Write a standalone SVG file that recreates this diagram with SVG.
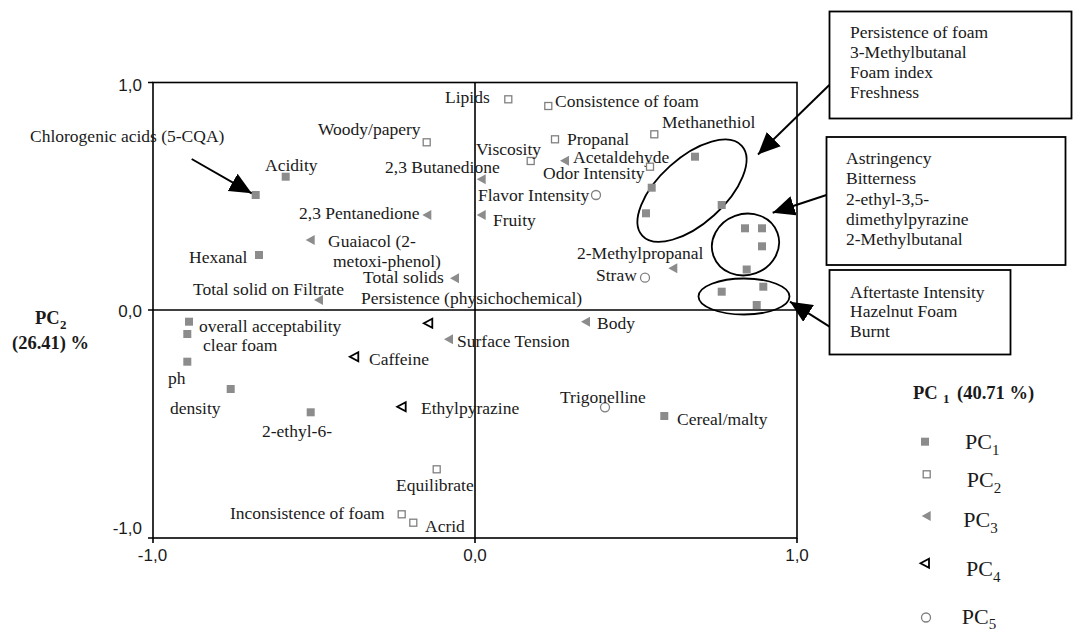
<svg xmlns="http://www.w3.org/2000/svg" width="1073" height="631" viewBox="0 0 1073 631">
<style>
.t{font-family:"Liberation Serif","Times New Roman",serif;font-size:17.5px;fill:#1a1a1a}
.ax{font-family:"Liberation Sans",Arial,sans-serif;font-size:17px;fill:#1a1a1a}
.b{font-family:"Liberation Serif","Times New Roman",serif;font-weight:bold;font-size:18.5px;fill:#1a1a1a}
.bs{font-family:"Liberation Serif","Times New Roman",serif;font-weight:bold;font-size:13px;fill:#1a1a1a}
.lg{font-family:"Liberation Serif","Times New Roman",serif;font-size:22px;fill:#1a1a1a}
.lgs{font-family:"Liberation Serif","Times New Roman",serif;font-size:15px;fill:#1a1a1a}
.frame{fill:none;stroke:#000;stroke-width:1.6}
.ln{stroke:#000;stroke-width:1.6;fill:none}
.box{fill:#fff;stroke:#000;stroke-width:1.8}
.ell{fill:none;stroke:#000;stroke-width:1.8}
.arr{stroke:#000;stroke-width:2;fill:none;marker-end:url(#ah)}
</style>
<defs>
<marker id="ah" markerUnits="userSpaceOnUse" markerWidth="24" markerHeight="20" refX="22" refY="10" orient="auto"><path d="M0,0 L22,10 L0,20 z" fill="#000"/></marker>
<rect id="p1" x="-4" y="-4" width="8" height="8" fill="#8c8c8c"/>
<rect id="p2" x="-3.5" y="-3.5" width="7" height="7" fill="#fff" stroke="#808080" stroke-width="1.3"/>
<path id="p3" d="M-5,0 L4,-5 L4,5 z" fill="#8c8c8c"/>
<path id="p4" d="M-4.5,0 L4,-4.5 L4,4.5 z" fill="#fff" stroke="#000" stroke-width="1.8"/>
<circle id="p5" r="4.5" fill="#fff" stroke="#808080" stroke-width="1.3"/>
</defs>
<rect width="1073" height="631" fill="#fff"/>

<g id="axes">
<rect class="frame" x="153" y="82.5" width="644" height="455.5"/>
<line class="ln" x1="148" y1="310" x2="797" y2="310"/>
<line class="ln" x1="475" y1="82.5" x2="475" y2="543"/>
<path class="ln" d="M148,82.5 H153 M148,538 H153 M153,538 V543 M797,538 V543"/>
<text class="ax" x="142" y="91" text-anchor="end">1,0</text>
<text class="ax" x="142" y="316.5" text-anchor="end">0,0</text>
<text class="ax" x="142" y="534" text-anchor="end">-1,0</text>
<text class="ax" x="152.5" y="561" text-anchor="middle">-1,0</text>
<text class="ax" x="475" y="561" text-anchor="middle">0,0</text>
<text class="ax" x="797" y="561" text-anchor="middle">1,0</text>
<text class="b" x="35" y="324">PC</text><text class="bs" x="60" y="329">2</text>
<text class="b" x="12" y="349">(26.41) %</text>
<text class="b" x="913" y="399">PC</text><text class="bs" x="943" y="403">1</text>
<text class="b" x="957" y="399">(40.71 %)</text>
</g>

<g id="groups">
<ellipse class="ell" cx="692" cy="190.7" rx="67" ry="33" transform="rotate(-42 692 190.7)"/>
<ellipse class="ell" cx="745.5" cy="244.5" rx="34" ry="30.5" transform="rotate(-20 745.5 244.5)"/>
<ellipse class="ell" cx="744" cy="296.5" rx="45.5" ry="18"/>
</g>

<g id="pc1-points">
<use href="#p1" x="255.7" y="195"/>
<use href="#p1" x="285.7" y="176.7"/>
<use href="#p1" x="259" y="255"/>
<use href="#p1" x="189" y="321.7"/>
<use href="#p1" x="187.3" y="334"/>
<use href="#p1" x="187.3" y="361.7"/>
<use href="#p1" x="230.7" y="389"/>
<use href="#p1" x="310.7" y="412.3"/>
<use href="#p1" x="664.3" y="416"/>
<use href="#p1" x="695" y="156.7"/>
<use href="#p1" x="651.7" y="187.7"/>
<use href="#p1" x="721.7" y="205"/>
<use href="#p1" x="646" y="213.3"/>
<use href="#p1" x="745" y="228.3"/>
<use href="#p1" x="762" y="228.3"/>
<use href="#p1" x="762" y="246.3"/>
<use href="#p1" x="746.7" y="269.5"/>
<use href="#p1" x="721.7" y="291.7"/>
<use href="#p1" x="763.3" y="286.7"/>
<use href="#p1" x="756.7" y="305"/>
</g>

<g id="n-chlorogenic"><text class="t" x="30" y="142">Chlorogenic acids (5-CQA)</text></g>
<g id="n-lipids"><use href="#p2" x="508.3" y="99.3"/><text class="t" x="445" y="103">Lipids</text></g>
<g id="n-consistence"><use href="#p2" x="548.3" y="106"/><text class="t" x="555" y="106.5">Consistence of foam</text></g>
<g id="n-methanethiol"><use href="#p2" x="654.3" y="134.3"/><text class="t" x="662" y="128">Methanethiol</text></g>
<g id="n-woody"><use href="#p2" x="426.7" y="142.3"/><text class="t" x="318" y="135">Woody/papery</text></g>
<g id="n-propanal"><use href="#p2" x="555" y="139.3"/><text class="t" x="567" y="145">Propanal</text></g>
<g id="n-viscosity"><use href="#p2" x="530.7" y="161"/><text class="t" x="476" y="155">Viscosity</text></g>
<g id="n-acetaldehyde"><use href="#p3" x="565" y="160.7"/><text class="t" x="573" y="162.5">Acetaldehyde</text></g>
<g id="n-acidity"><text class="t" x="265" y="171">Acidity</text></g>
<g id="n-butanedione"><use href="#p3" x="481.7" y="179.3"/><text class="t" x="385" y="172.5">2,3 Butanedione</text></g>
<g id="n-odor"><use href="#p2" x="650" y="166.7"/><text class="t" x="543" y="179">Odor Intensity</text></g>
<g id="n-flavor"><use href="#p5" x="596" y="195"/><text class="t" x="478" y="201">Flavor Intensity</text></g>
<g id="n-pentanedione"><use href="#p3" x="427.3" y="215"/><text class="t" x="299" y="219">2,3 Pentanedione</text></g>
<g id="n-fruity"><use href="#p3" x="481.7" y="215"/><text class="t" x="493" y="225.5">Fruity</text></g>
<g id="n-guaiacol"><use href="#p3" x="310.7" y="240"/><text class="t" x="328" y="247">Guaiacol (2-</text><text class="t" x="333" y="267">metoxi-phenol)</text></g>
<g id="n-hexanal"><text class="t" x="189" y="262.5">Hexanal</text></g>
<g id="n-methylpropanal"><use href="#p3" x="673.3" y="268.3"/><text class="t" x="577" y="258.5">2-Methylpropanal</text></g>
<g id="n-straw"><use href="#p5" x="645" y="277.7"/><text class="t" x="596" y="281">Straw</text></g>
<g id="n-totalsolids"><use href="#p3" x="455" y="278.3"/><text class="t" x="363" y="283">Total solids</text></g>
<g id="n-filtrate"><use href="#p3" x="319" y="300"/><text class="t" x="193" y="295">Total solid on Filtrate</text></g>
<g id="n-persistence"><text class="t" x="361" y="304">Persistence (physichochemical)</text><use href="#p4" x="428.3" y="323.3"/></g>
<g id="n-overall"><text class="t" x="199" y="332">overall acceptability</text></g>
<g id="n-body"><use href="#p3" x="586" y="321.7"/><text class="t" x="597" y="329">Body</text></g>
<g id="n-surface"><use href="#p3" x="449" y="339.3"/><text class="t" x="457" y="347">Surface Tension</text></g>
<g id="n-clearfoam"><text class="t" x="203" y="351">clear foam</text></g>
<g id="n-caffeine"><use href="#p4" x="354.3" y="356.7"/><text class="t" x="369" y="365">Caffeine</text></g>
<g id="n-ph"><text class="t" x="168" y="384">ph</text></g>
<g id="n-trigonelline"><use href="#p5" x="605" y="407.3"/><text class="t" x="560" y="402.5">Trigonelline</text></g>
<g id="n-density"><text class="t" x="170" y="413.5">density</text></g>
<g id="n-ethylpyrazine"><use href="#p4" x="401.7" y="406.7"/><text class="t" x="421" y="413.5">Ethylpyrazine</text></g>
<g id="n-cereal"><text class="t" x="677" y="425">Cereal/malty</text></g>
<g id="n-ethyl6"><text class="t" x="262" y="436.5">2-ethyl-6-</text></g>
<g id="n-equilibrate"><use href="#p2" x="436.7" y="469.3"/><text class="t" x="396" y="491">Equilibrate</text></g>
<g id="n-inconsistence"><use href="#p2" x="401.7" y="514.3"/><text class="t" x="230" y="519">Inconsistence of foam</text></g>
<g id="n-acrid"><use href="#p2" x="413.3" y="522.7"/><text class="t" x="425" y="532">Acrid</text></g>

<g id="box1">
<rect class="box" x="829.5" y="11.5" width="242" height="107"/>
<text class="t" x="850" y="37.5">Persistence of foam</text>
<text class="t" x="850" y="58">3-Methylbutanal</text>
<text class="t" x="850" y="78">Foam index</text>
<text class="t" x="850" y="98">Freshness</text>
</g>
<g id="box2">
<rect class="box" x="826.5" y="137" width="239" height="128"/>
<text class="t" x="846" y="164">Astringency</text>
<text class="t" x="846" y="184">Bitterness</text>
<text class="t" x="846" y="204.5">2-ethyl-3,5-</text>
<text class="t" x="846" y="225">dimethylpyrazine</text>
<text class="t" x="846" y="244.5">2-Methylbutanal</text>
</g>
<g id="box3">
<rect class="box" x="829.5" y="270" width="181" height="84.5"/>
<text class="t" x="850" y="297.5">Aftertaste Intensity</text>
<text class="t" x="850" y="317">Hazelnut Foam</text>
<text class="t" x="850" y="336.5">Burnt</text>
</g>

<g id="connectors">
<line class="arr" x1="191.7" y1="159" x2="251.7" y2="193.3"/>
<line class="arr" x1="829.3" y1="85" x2="758" y2="154.5"/>
<line class="arr" x1="826.5" y1="195" x2="772.7" y2="212.7"/>
<line class="arr" x1="829.5" y1="326.7" x2="790" y2="301.7"/>
</g>

<g id="legend">
<use href="#p1" x="925" y="441.7"/><text class="lg" x="965" y="449">PC</text><text class="lgs" x="992" y="455">1</text>
<use href="#p2" x="926.7" y="474.3"/><text class="lg" x="966.7" y="487">PC</text><text class="lgs" x="993.7" y="493">2</text>
<use href="#p3" x="926.7" y="516"/><text class="lg" x="963.3" y="526.5">PC</text><text class="lgs" x="990.3" y="532.5">3</text>
<use href="#p4" x="925" y="563.3"/><text class="lg" x="966" y="576">PC</text><text class="lgs" x="993" y="582">4</text>
<use href="#p5" x="926" y="617.5"/><text class="lg" x="961.7" y="623.5">PC</text><text class="lgs" x="988.7" y="628.5">5</text>
</g>
</svg>
